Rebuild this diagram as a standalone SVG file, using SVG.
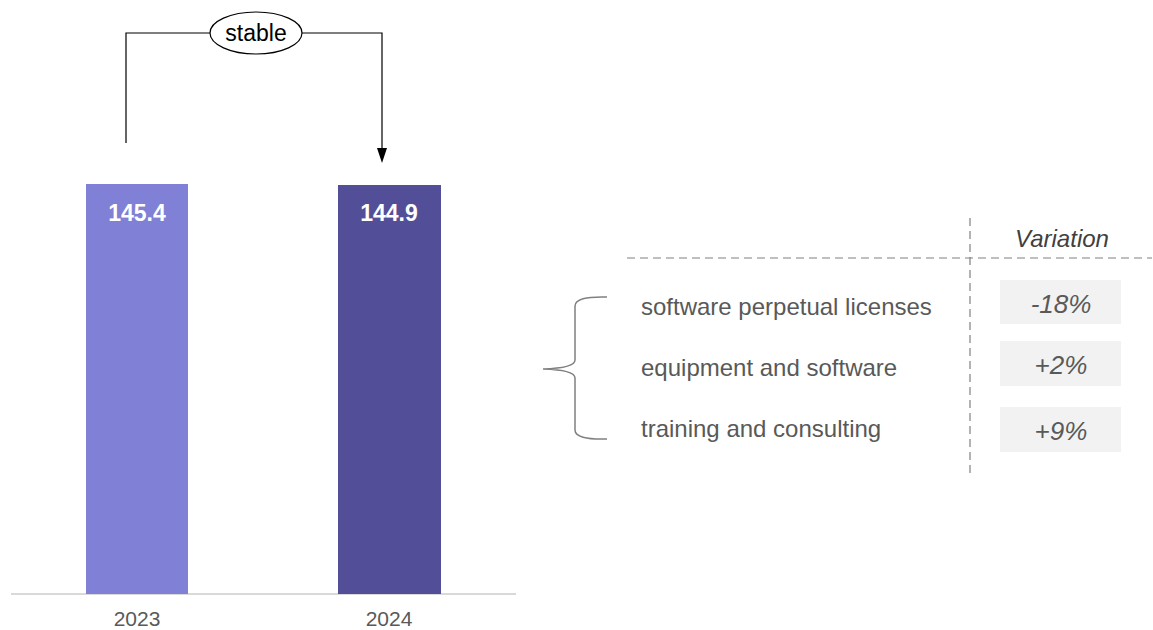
<svg xmlns="http://www.w3.org/2000/svg" width="1153" height="630" viewBox="0 0 1153 630">
<style>
.lbl{font-family:"Liberation Sans",Arial,sans-serif;font-size:24px;fill:#595959}
.yr{font-family:"Liberation Sans",Arial,sans-serif;font-size:21px;fill:#595959;text-anchor:middle}
.val{font-family:"Liberation Sans",Arial,sans-serif;font-size:23px;font-weight:bold;fill:#ffffff;text-anchor:middle}
.pct{font-family:"Liberation Sans",Arial,sans-serif;font-size:26px;font-style:italic;fill:#595959;text-anchor:middle}
.box{fill:#f2f2f2}
.dash{stroke:#808080;stroke-width:1.2;stroke-dasharray:8 5;fill:none}
.conn{stroke:#000;stroke-width:1.2;fill:none}
</style>
<rect width="1153" height="630" fill="#fff"/>
<line x1="11" y1="594" x2="516" y2="594" stroke="#d9d9d9" stroke-width="2"/>
<g id="bar2023">
<rect x="86" y="184" width="102" height="410" fill="#8080d6"/>
<text class="val" x="137" y="221">145.4</text>
<text class="yr" x="137" y="626">2023</text>
</g>
<g id="bar2024">
<rect x="338" y="185" width="103" height="409" fill="#524f98"/>
<text class="val" x="389" y="221">144.9</text>
<text class="yr" x="389" y="626">2024</text>
</g>
<g id="connectors">
<polyline class="conn" points="126,143 126,33 211,33"/>
<path class="conn" d="M301,33 L382,33 L382,150"/>
<path d="M377,148 L387,148 L382,163 Z" fill="#000"/>
<path d="M607,297 Q575,296 575,306 L575,360 Q575,368 543,369 Q575,370 575,378 L575,430 Q575,440 607,439" fill="none" stroke="#808080" stroke-width="1.5"/>
</g>
<g id="stable">
<ellipse cx="256" cy="33" rx="46" ry="21" fill="#fff" stroke="#000" stroke-width="1.2"/>
<text x="256" y="41" text-anchor="middle" font-family="Liberation Sans, Arial, sans-serif" font-size="23" fill="#000">stable</text>
</g>
<g id="table">
<line class="dash" x1="627" y1="258" x2="1152" y2="258"/>
<line class="dash" x1="970" y1="218" x2="970" y2="475"/>
<text x="1062" y="247" text-anchor="middle" font-family="Liberation Sans, Arial, sans-serif" font-size="24" font-style="italic" fill="#404040">Variation</text>
</g>
<g id="row1">
<text class="lbl" x="641" y="315">software perpetual licenses</text>
<rect class="box" x="1000" y="280" width="121" height="44"/>
<text class="pct" x="1061" y="313">-18%</text>
</g>
<g id="row2">
<text class="lbl" x="641" y="376">equipment and software</text>
<rect class="box" x="1000" y="341" width="121" height="45"/>
<text class="pct" x="1061" y="374">+2%</text>
</g>
<g id="row3">
<text class="lbl" x="641" y="437">training and consulting</text>
<rect class="box" x="1000" y="407" width="121" height="45"/>
<text class="pct" x="1061" y="440">+9%</text>
</g>
</svg>
